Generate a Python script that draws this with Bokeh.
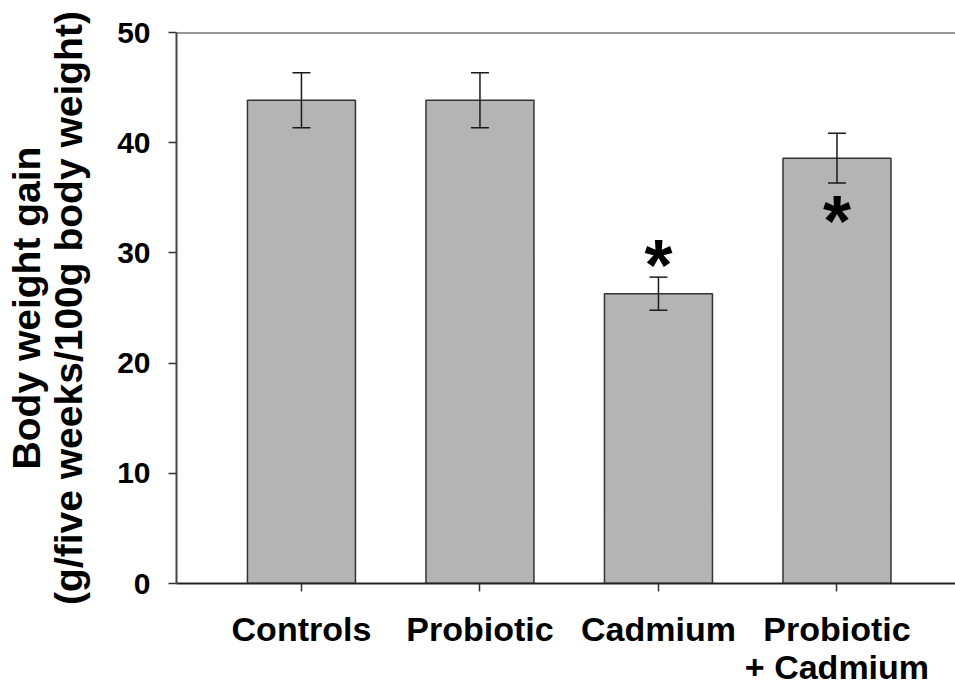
from bokeh.plotting import figure
from bokeh.models import ColumnDataSource, Whisker, TeeHead, Span, FixedTicker, Range1d
from bokeh.core.properties import value
from bokeh.embed import file_html
from bokeh.resources import INLINE

groups = ["Controls", "Probiotic", "Cadmium", "Probiotic\n+ Cadmium"]
positions = [1, 2, 3, 4]
means = [43.85, 43.85, 26.3, 38.6]
errors = [2.5, 2.5, 1.5, 2.25]
star_positions = [3, 4]
star_values = [30.0, 34.0]
y_ticks = [0, 10, 20, 30, 40, 50]

FONT = "Liberation Sans"

src = ColumnDataSource(dict(
    x=positions, top=means,
    upper=[m + e for m, e in zip(means, errors)],
    lower=[m - e for m, e in zip(means, errors)],
))

p = figure(frame_width=779, frame_height=551, output_backend="svg", toolbar_location=None,
           x_range=Range1d(0.3, 4.664), y_range=Range1d(0, 50),
           min_border_left=176, min_border_right=0, min_border_top=32,
           min_border_bottom=101)
p.outline_line_color = None
p.grid.visible = False
p.background_fill_color = "white"

p.vbar(x="x", top="top", width=0.605, bottom=0, source=src,
       fill_color="#b4b4b4", line_color="#333333", line_width=1.5)

w = Whisker(base="x", upper="upper", lower="lower", source=src, level="overlay",
            line_color="#1a1a1a", line_width=1.5,
            upper_head=TeeHead(size=18, line_color="#1a1a1a", line_width=1.5),
            lower_head=TeeHead(size=18, line_color="#1a1a1a", line_width=1.5))
p.add_layout(w)

p.text(x=star_positions, y=star_values, text=["*", "*"],
       text_font=value(FONT), text_font_style="bold", text_font_size="72px",
       text_align="center", text_baseline="middle", text_color="black",
       y_offset=12)

p.add_layout(Span(location=50, dimension="width", line_color="#333333", line_width=2))

# y axis
ya = p.yaxis[0]
ya.ticker = FixedTicker(ticks=y_ticks)
ya.major_tick_out = 8
ya.major_tick_in = 0
ya.minor_tick_line_color = None
ya.axis_line_color = "#444444"
ya.axis_line_width = 2
ya.major_tick_line_color = "#333333"
ya.major_tick_line_width = 1.5
ya.major_label_text_font = FONT
ya.major_label_text_font_style = "bold"
ya.major_label_text_font_size = "30px"
ya.major_label_text_color = "black"
ya.major_label_standoff = 18
ya.axis_label = "Body weight gain\n(g/five weeks/100g body weight)"
ya.axis_label_text_font = FONT
ya.axis_label_text_font_style = "bold"
ya.axis_label_text_font_size = "39px"
ya.axis_label_text_line_height = 0.97
ya.axis_label_text_color = "black"
ya.axis_label_standoff = 24

# x axis
xa = p.xaxis[0]
xa.ticker = FixedTicker(ticks=positions)
xa.major_label_overrides = {pos: g for pos, g in zip(positions, groups)}
xa.major_tick_out = 8
xa.major_tick_in = 0
xa.minor_tick_line_color = None
xa.axis_line_color = "#222222"
xa.axis_line_width = 2
xa.major_tick_line_color = "#333333"
xa.major_tick_line_width = 1.5
xa.major_label_text_font = FONT
xa.major_label_text_font_style = "bold"
xa.major_label_text_font_size = "34px"
xa.major_label_text_line_height = 1.0
xa.major_label_text_color = "black"
xa.major_label_standoff = 18

open("out.html", "w").write(file_html(p, INLINE))
